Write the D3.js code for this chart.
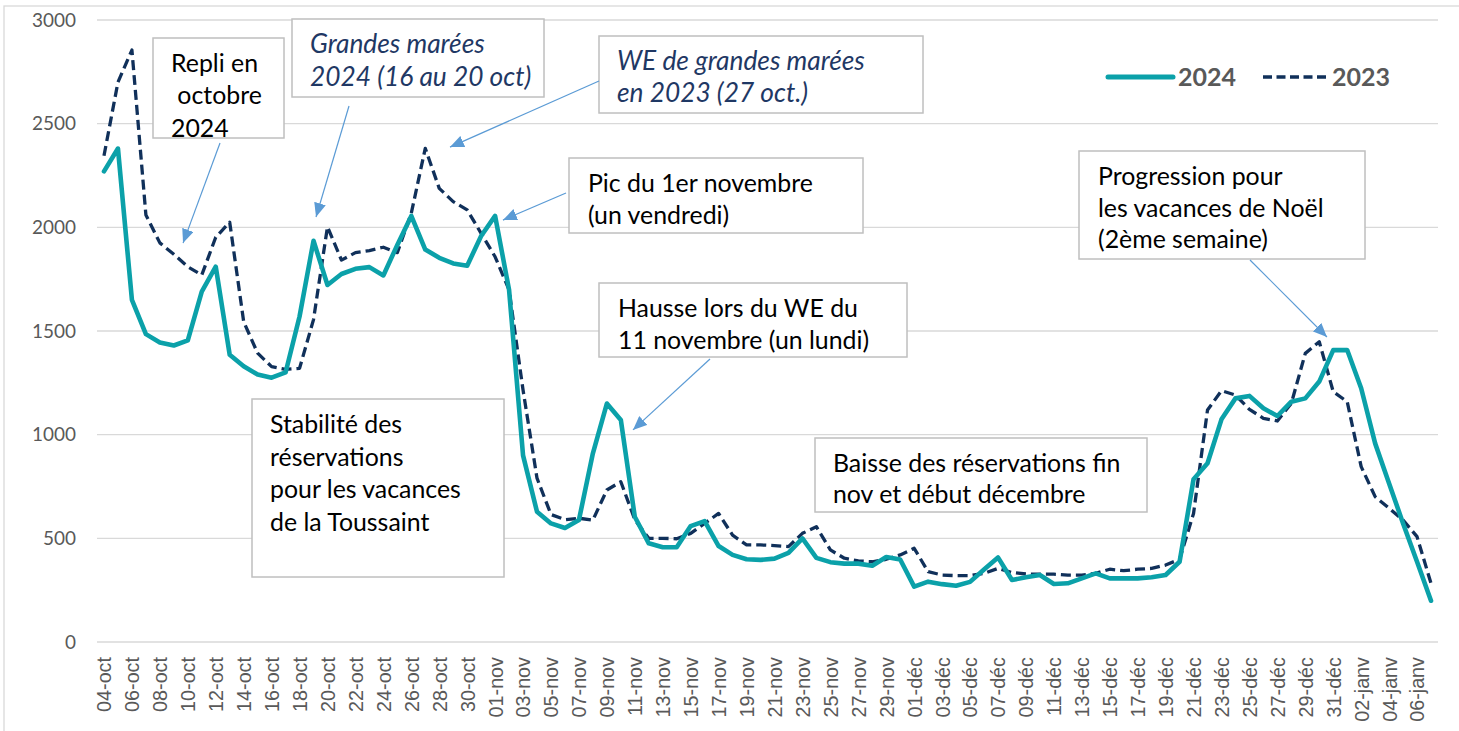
<!DOCTYPE html>
<html><head><meta charset="utf-8">
<script src="https://cdn.jsdelivr.net/npm/d3@7"></script>
<style>body{margin:0;background:#fff;} svg{display:block;}</style>
</head><body>
<svg id="chart" width="1459" height="731"></svg>
<script>
// ---------- DATA ----------
const categories = [
 "04-oct","05-oct","06-oct","07-oct","08-oct","09-oct","10-oct","11-oct","12-oct","13-oct","14-oct","15-oct","16-oct","17-oct","18-oct","19-oct","20-oct","21-oct","22-oct","23-oct","24-oct","25-oct","26-oct","27-oct","28-oct","29-oct","30-oct","31-oct",
 "01-nov","02-nov","03-nov","04-nov","05-nov","06-nov","07-nov","08-nov","09-nov","10-nov","11-nov","12-nov","13-nov","14-nov","15-nov","16-nov","17-nov","18-nov","19-nov","20-nov","21-nov","22-nov","23-nov","24-nov","25-nov","26-nov","27-nov","28-nov","29-nov","30-nov",
 "01-déc","02-déc","03-déc","04-déc","05-déc","06-déc","07-déc","08-déc","09-déc","10-déc","11-déc","12-déc","13-déc","14-déc","15-déc","16-déc","17-déc","18-déc","19-déc","20-déc","21-déc","22-déc","23-déc","24-déc","25-déc","26-déc","27-déc","28-déc","29-déc","30-déc","31-déc",
 "01-janv","02-janv","03-janv","04-janv","05-janv","06-janv","07-janv"
];
const values2024 = [
 2270,2380,1650,1485,1445,1430,1455,1690,1810,1385,1330,1290,1275,1300,1570,1935,1722,1775,1800,1808,1768,1915,2055,1893,1853,1826,1815,1958,
 2055,1698,900,628,572,550,588,910,1150,1071,604,476,457,457,559,583,463,420,399,396,402,430,500,406,385,378,378,368,410,398,
 267,291,279,271,290,350,408,299,312,323,280,283,307,331,307,307,307,312,323,387,785,862,1074,1175,1187,1127,1090,1159,1175,1256,1408,
 1408,1224,958,765,572,387,199
];
const values2023 = [
 2345,2700,2855,2060,1925,1870,1810,1770,1952,2025,1545,1393,1328,1315,1320,1555,2003,1842,1878,1888,1904,1878,2068,2381,2188,2124,2084,1971,
 1858,1698,1215,790,615,590,597,588,733,773,590,500,500,498,524,572,620,515,468,468,465,460,524,556,444,404,391,387,399,420,
 452,339,323,320,320,331,355,335,328,327,327,323,323,331,351,344,351,355,371,399,620,1119,1212,1191,1122,1079,1066,1151,1392,1448,1207,
 1159,846,701,645,588,508,283
];
const seriesNames = ["2024","2023"];
const yTicks = [0,500,1000,1500,2000,2500,3000];
const tickLabels = categories.filter((d,i)=>i%2===0);

const annotationTexts = [
 ["Repli en"," octobre","2024"],
 ["Grandes marées","2024 (16 au 20 oct)"],
 ["WE de grandes marées","en 2023 (27 oct.)"],
 ["Pic du 1er novembre","(un vendredi)"],
 ["Hausse lors du WE du","11 novembre (un lundi)"],
 ["Stabilité des","réservations","pour les vacances","de la Toussaint"],
 ["Baisse des réservations fin","nov et début décembre"],
 ["Progression pour","les vacances de Noël","(2ème semaine)"]
];

// ---------- LAYOUT ----------
const W = 1459, H = 731;
const plot = {left: 97, right: 1438, top: 20, bottom: 642};
const colors = {teal: "#0ba1a9", navy: "#10305a", grid: "#d9d9d9", axisText: "#595959", arrow: "#5b9bd5", box: "#bfbfbf", italic: "#1f3864"};
const FONT = "Lato, 'Open Sans', sans-serif";

const svg = d3.select("#chart");

function fit(sample, target, family, weight, style) {
  const t = svg.append("text").attr("font-family", family).attr("font-size", 100)
    .attr("font-weight", weight || "normal").attr("font-style", style || "normal").text(sample);
  const w = t.node().getComputedTextLength();
  t.remove();
  return 100 * target / w;
}
const fsAnn = fit("Pic du 1er novembre", 225, FONT);
const fsAnnIt = fit("WE de grandes marées", 248, FONT, "normal", "italic");
const fsLeg = fit("2024", 58, FONT, "bold");
const fsY = fit("3000", 44, FONT);
const fsX = fit("04-oct", 55, "'Liberation Sans', Arial, sans-serif");

// chart outer border
svg.append("rect").attr("x", 4).attr("y", 6).attr("width", W).attr("height", H)
  .attr("fill", "none").attr("stroke", colors.grid).attr("stroke-width", 1.3);

const x = d3.scalePoint().domain(categories).range([plot.left, plot.right]).padding(0.5);
const y = d3.scaleLinear().domain([0, 3000]).range([plot.bottom, plot.top]);
const xIdx = i => x(categories[0]) + i * x.step();

// gridlines
svg.append("g").selectAll("line").data(yTicks).join("line")
  .attr("x1", plot.left).attr("x2", plot.right)
  .attr("y1", d => y(d)).attr("y2", d => y(d))
  .attr("stroke", colors.grid).attr("stroke-width", 1.4);

// y axis labels
const yAxis = d3.axisLeft(y).tickValues(yTicks).tickSize(0).tickPadding(0).tickFormat(d3.format("d"));
const gy = svg.append("g").attr("transform", "translate(76,0)").call(yAxis);
gy.select(".domain").remove();
gy.selectAll("text").attr("font-family", FONT).attr("font-size", fsY).attr("fill", colors.axisText);

// x axis labels
const xAxis = d3.axisBottom(x).tickValues(tickLabels).tickSize(0).tickPadding(0);
const gx = svg.append("g").attr("transform", `translate(0,657)`).call(xAxis);
gx.select(".domain").remove();
gx.selectAll("text")
  .attr("font-family", "'Liberation Sans', Arial, sans-serif").attr("font-size", fsX).attr("fill", colors.axisText)
  .attr("text-anchor", "end").attr("transform", "rotate(-90)")
  .attr("x", 0).attr("y", 0).attr("dx", 0).attr("dy", "0.35em");

// lines
const line = d3.line().x((d, i) => x(categories[i])).y(d => y(d)).curve(d3.curveLinear);
svg.append("path").datum(values2023).attr("d", line)
  .attr("fill", "none").attr("stroke", colors.navy).attr("stroke-width", 3.3)
  .attr("stroke-dasharray", "10,5").attr("stroke-linejoin", "round");
svg.append("path").datum(values2024).attr("d", line)
  .attr("fill", "none").attr("stroke", colors.teal).attr("stroke-width", 4.6)
  .attr("stroke-linejoin", "round").attr("stroke-linecap", "round");

// legend
const leg = svg.append("g");
leg.append("line").attr("x1", 1108).attr("x2", 1173).attr("y1", 77).attr("y2", 77)
  .attr("stroke", colors.teal).attr("stroke-width", 5).attr("stroke-linecap", "round");
leg.append("text").attr("x", 1178).attr("y", 86).text(seriesNames[0])
  .attr("font-family", FONT).attr("font-weight", "bold").attr("font-size", fsLeg).attr("fill", colors.axisText);
leg.append("line").attr("x1", 1263).attr("x2", 1326).attr("y1", 77).attr("y2", 77)
  .attr("stroke", colors.navy).attr("stroke-width", 3.3).attr("stroke-dasharray", "9,4.5");
leg.append("text").attr("x", 1332).attr("y", 86).text(seriesNames[1])
  .attr("font-family", FONT).attr("font-weight", "bold").attr("font-size", fsLeg).attr("fill", colors.axisText);

// annotations: boxes
const boxLayout = [
 {x:153, y:38, w:131, h:100, tx:[171,171,171], ty:[72,104,137], italic:false},
 {x:292, y:19, w:252, h:78, tx:[310,310], ty:[53,86], italic:true},
 {x:599, y:36, w:324, h:77, tx:[617,617], ty:[70,102], italic:true},
 {x:569, y:158, w:294, h:75, tx:[588,588], ty:[192,224], italic:false},
 {x:599, y:283, w:308, h:74, tx:[618,618], ty:[317,349], italic:false},
 {x:252, y:399, w:252, h:178, tx:[270,270,270,270], ty:[433,466,498,531], italic:false},
 {x:815, y:438, w:332, h:74, tx:[833,833], ty:[472,503], italic:false},
 {x:1079, y:151, w:286, h:108, tx:[1098,1098,1098], ty:[185,217,248], italic:false}
];
// arrows: start in px, tip in data space (category index, value)
const arrowLayout = [
 {sx:220, sy:143, ti:5.66, tv:1924},
 {sx:349, sy:106, ti:15.18, tv:2050},
 {sx:599, sy:81, ti:24.77, tv:2387},
 {sx:566, sy:193, ti:28.56, tv:2035},
 {sx:710, sy:359, ti:37.87, tv:1023},
 {sx:1250, sy:260, ti:87.55, tv:1471}
];

const defs = svg.append("defs");
defs.append("marker").attr("id", "arr").attr("viewBox", "0 0 14 12").attr("refX", 14).attr("refY", 6)
  .attr("markerWidth", 14).attr("markerHeight", 12).attr("markerUnits", "userSpaceOnUse").attr("orient", "auto")
  .append("path").attr("d", "M0,0 L14,6 L0,12 Z").attr("fill", colors.arrow);

const ann = svg.append("g");
boxLayout.forEach((b, k) => {
  const g = ann.append("g");
  g.append("rect").attr("x", b.x).attr("y", b.y).attr("width", b.w).attr("height", b.h)
    .attr("fill", "#fff").attr("stroke", colors.box).attr("stroke-width", 1.5);
  annotationTexts[k].forEach((t, j) => {
    g.append("text").attr("x", b.tx[j]).attr("y", b.ty[j]).text(t)
      .attr("xml:space", "preserve").style("white-space", "pre")
      .attr("font-family", FONT).attr("font-size", b.italic ? fsAnnIt : fsAnn)
      .attr("font-style", b.italic ? "italic" : "normal")
      .attr("fill", b.italic ? colors.italic : "#000");
  });
});
arrowLayout.forEach(a => {
  ann.append("line").attr("x1", a.sx).attr("y1", a.sy).attr("x2", xIdx(a.ti)).attr("y2", y(a.tv))
    .attr("stroke", colors.arrow).attr("stroke-width", 1.2).attr("marker-end", "url(#arr)");
});
</script>
</body></html>
